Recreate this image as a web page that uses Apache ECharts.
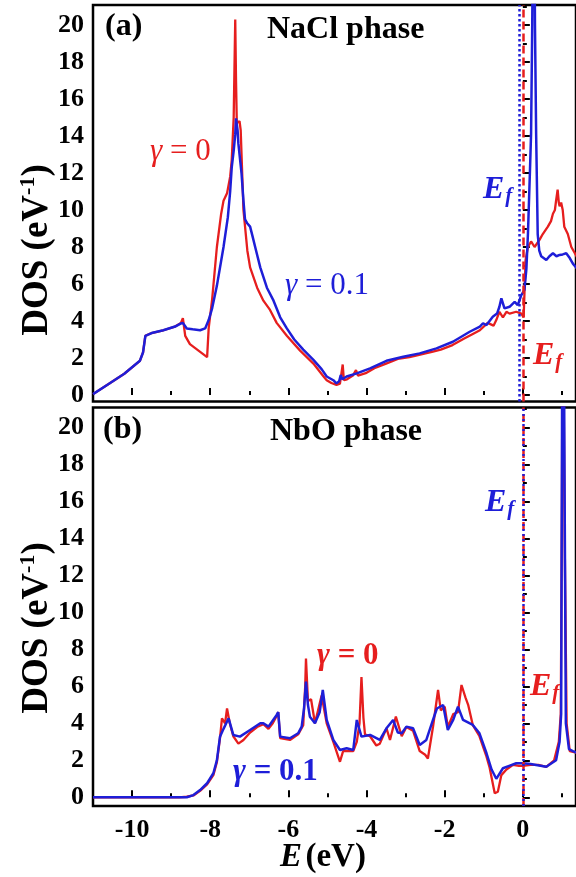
<!DOCTYPE html>
<html>
<head>
<meta charset="utf-8">
<script src="https://cdn.jsdelivr.net/npm/echarts@6/dist/echarts.min.js"></script>
<style>
html,body{margin:0;padding:0;background:#fff;}
#c{width:576px;height:877px;}
</style>
</head>
<body>
<div id="c"></div>
<script>
// ---------- DATA ----------
const yTicks = [0, 2, 4, 6, 8, 10, 12, 14, 16, 18, 20];
const yMinorTicks = [1, 3, 5, 7, 9, 11, 13, 15, 17, 19, 21];
const xTicks = [-10, -8, -6, -4, -2, 0];
const xMinorTicks = [-9, -7, -5, -3, -1, 1];

// (a) NaCl phase, gamma = 0 (red)
const naclRedE = [-11.0, -10.6, -10.2, -9.8, -9.72, -9.66, -9.5, -9.2, -8.9, -8.75, -8.70, -8.64, -8.52, -8.3, -8.08, -8.04, -7.95, -7.83, -7.72, -7.66, -7.57, -7.49, -7.45, -7.40, -7.37, -7.36, -7.34, -7.32, -7.25, -7.22, -7.15, -7.05, -6.98, -6.8, -6.64, -6.47, -6.30, -6.04, -5.70, -5.36, -5.1, -5.02, -4.9, -4.77, -4.68, -4.63, -4.61, -4.58, -4.5, -4.35, -4.27, -4.22, -4.0, -3.8, -3.5, -3.2, -2.9, -2.6, -2.3, -2.1, -1.8, -1.5, -1.28, -1.1, -0.9, -0.75, -0.68, -0.60, -0.51, -0.42, -0.34, -0.17, -0.04, 0.02, 0.07, 0.13, 0.21, 0.30, 0.43, 0.51, 0.64, 0.72, 0.77, 0.82, 0.85, 0.89, 0.92, 0.94, 0.98, 1.02, 1.06, 1.15, 1.24, 1.32, 1.40];
const naclRedDOS = [0.05, 0.6, 1.15, 1.85, 2.3, 3.2, 3.35, 3.5, 3.7, 3.9, 4.15, 3.2, 2.75, 2.4, 2.05, 3.6, 5.2, 8.0, 9.8, 10.5, 10.9, 11.8, 12.7, 15.0, 19.0, 20.3, 17.0, 14.7, 14.8, 14.3, 10.0, 7.8, 6.9, 5.8, 5.1, 4.6, 3.9, 3.2, 2.4, 1.7, 1.0, 0.8, 0.65, 0.55, 0.62, 0.7, 1.65, 0.8, 0.85, 1.05, 1.35, 1.05, 1.2, 1.45, 1.7, 1.95, 2.05, 2.2, 2.35, 2.45, 2.7, 3.05, 3.3, 3.5, 3.9, 3.75, 4.05, 4.5, 4.2, 4.5, 4.4, 4.5, 4.4, 4.2, 7.3, 8.0, 8.3, 8.0, 8.4, 8.7, 9.1, 9.4, 9.8, 10.0, 10.5, 11.1, 10.4, 10.2, 10.4, 10.0, 9.1, 8.7, 8.0, 7.7, 7.4];

// (a) NaCl phase, gamma = 0.1 (blue)
const naclBlueE = [-11.0, -10.6, -10.2, -9.8, -9.72, -9.66, -9.5, -9.2, -8.9, -8.77, -8.70, -8.6, -8.45, -8.26, -8.13, -8.04, -7.95, -7.83, -7.66, -7.55, -7.49, -7.45, -7.40, -7.36, -7.34, -7.30, -7.28, -7.2, -7.15, -7.11, -7.06, -6.98, -6.92, -6.85, -6.72, -6.55, -6.38, -6.21, -6.04, -5.85, -5.62, -5.36, -5.15, -5.02, -4.85, -4.77, -4.70, -4.66, -4.62, -4.51, -4.25, -3.91, -3.49, -3.06, -2.64, -2.21, -1.79, -1.36, -1.1, -1.02, -0.93, -0.77, -0.66, -0.60, -0.55, -0.47, -0.34, -0.21, -0.13, -0.04, 0.04, 0.09, 0.13, 0.18, 0.21, 0.24, 0.28, 0.31, 0.34, 0.38, 0.42, 0.47, 0.60, 0.68, 0.77, 0.86, 0.94, 1.02, 1.11, 1.2, 1.28, 1.40];
const naclBlueDOS = [0.05, 0.6, 1.15, 1.85, 2.3, 3.2, 3.35, 3.5, 3.7, 3.85, 3.9, 3.6, 3.55, 3.5, 3.6, 4.05, 4.7, 5.9, 8.0, 9.6, 11.0, 12.3, 13.2, 14.1, 14.95, 14.3, 13.6, 12.0, 10.5, 9.5, 9.3, 9.1, 8.6, 8.0, 6.9, 5.8, 5.1, 4.2, 3.6, 3.0, 2.45, 1.9, 1.4, 1.0, 0.8, 0.63, 0.75, 1.08, 0.85, 1.0, 1.17, 1.44, 1.85, 2.07, 2.25, 2.52, 2.88, 3.42, 3.7, 3.88, 3.78, 4.23, 4.4, 4.77, 5.23, 4.68, 4.77, 5.04, 4.86, 5.4, 5.68, 6.8, 8.7, 12.0, 14.1, 20.0, 32.0, 20.0, 14.1, 8.7, 7.8, 7.5, 7.3, 7.5, 7.66, 7.5, 7.57, 7.6, 7.66, 7.4, 7.1, 6.8];

// (b) NbO phase, gamma = 0 (red)
const nboRedE = [-11.0, -8.8, -8.6, -8.43, -8.26, -8.08, -7.92, -7.83, -7.75, -7.70, -7.62, -7.57, -7.50, -7.41, -7.28, -7.15, -6.98, -6.80, -6.64, -6.51, -6.40, -6.30, -6.26, -6.21, -5.96, -5.75, -5.62, -5.57, -5.55, -5.50, -5.42, -5.32, -5.15, -5.10, -5.02, -4.85, -4.68, -4.60, -4.51, -4.34, -4.25, -4.18, -4.13, -4.08, -4.04, -3.91, -3.75, -3.66, -3.49, -3.40, -3.25, -3.10, -2.98, -2.81, -2.64, -2.50, -2.43, -2.30, -2.17, -2.10, -2.0, -1.92, -1.78, -1.66, -1.57, -1.47, -1.40, -1.28, -1.11, -0.93, -0.85, -0.72, -0.64, -0.55, -0.42, -0.25, -0.1, 0.0, 0.2, 0.4, 0.6, 0.80, 0.92, 0.97, 1.00, 1.02, 1.04, 1.07, 1.12, 1.2, 1.40];
const nboRedDOS = [0, 0, 0.03, 0.1, 0.35, 0.7, 1.2, 1.9, 3.2, 4.27, 4.0, 4.8, 4.0, 3.3, 2.9, 3.1, 3.5, 3.8, 3.95, 3.7, 4.0, 4.4, 4.6, 3.2, 3.1, 3.4, 3.9, 6.0, 7.5, 5.2, 5.3, 4.0, 5.5, 5.4, 4.0, 3.0, 1.92, 2.5, 2.5, 2.5, 3.0, 4.0, 6.5, 4.3, 3.4, 3.3, 2.8, 2.9, 3.73, 3.1, 4.36, 3.3, 3.8, 3.6, 2.5, 2.3, 2.1, 3.8, 5.8, 4.7, 4.9, 3.8, 4.5, 4.6, 6.07, 5.4, 5.0, 3.9, 3.3, 2.2, 1.6, 0.22, 0.3, 1.2, 1.5, 1.75, 1.7, 1.7, 1.75, 1.75, 1.65, 2.0, 3.0, 4.5, 16.0, 30.0, 30.0, 14.0, 4.0, 2.5, 2.4];

// (b) NbO phase, gamma = 0.1 (blue)
const nboBlueE = [-11.0, -8.6, -8.43, -8.26, -8.08, -7.92, -7.83, -7.75, -7.66, -7.53, -7.41, -7.24, -6.98, -6.72, -6.64, -6.51, -6.30, -6.26, -6.21, -5.96, -5.75, -5.66, -5.60, -5.55, -5.50, -5.45, -5.32, -5.20, -5.12, -5.02, -4.85, -4.68, -4.51, -4.34, -4.25, -4.13, -3.91, -3.66, -3.49, -3.32, -3.20, -3.10, -2.98, -2.81, -2.64, -2.47, -2.30, -2.20, -2.04, -1.92, -1.78, -1.66, -1.53, -1.28, -1.11, -0.93, -0.80, -0.68, -0.51, -0.35, -0.17, 0.0, 0.2, 0.34, 0.60, 0.85, 0.94, 0.98, 1.00, 1.02, 1.05, 1.07, 1.10, 1.18, 1.28, 1.40];
const nboBlueDOS = [0, 0, 0.12, 0.39, 0.76, 1.3, 2.0, 3.28, 3.7, 4.27, 3.37, 3.28, 3.64, 4.0, 4.0, 3.82, 4.45, 4.6, 3.28, 3.19, 3.46, 3.82, 4.8, 6.25, 5.0, 4.36, 4.0, 4.6, 5.8, 4.18, 3.1, 2.56, 2.65, 2.56, 4.18, 3.28, 3.37, 3.10, 3.73, 4.18, 3.5, 3.46, 3.82, 3.73, 2.83, 3.1, 4.18, 4.8, 4.99, 3.64, 4.2, 4.9, 4.18, 3.91, 3.46, 2.38, 1.5, 1.0, 1.57, 1.7, 1.84, 1.84, 1.8, 1.75, 1.65, 2.0, 3.0, 4.5, 18.0, 38.0, 38.0, 16.0, 4.0, 2.6, 2.5, 2.4];

// Fermi levels (eV)
const fermiNaclRed = 0.0;
const fermiNaclBlue = -0.1;
const fermiNboRed = 0.0;
const fermiNboBlue = 0.0;

// ---------- CHART ----------
const RED = '#e61e1e';
const BLUE = '#1e1ed8';
const FONT = '"Liberation Serif", "Times New Roman", serif';
const zip = (a, b) => a.map((v, i) => [v, b[i]]);

const X_MIN = -11, X_MAX = 1.36;
const YA_MIN = -0.35, YA_MAX = 21.08;
const YB_MIN = -0.47, YB_MAX = 21.07;

function xAx(grid, major, labels) {
  return {
    type: 'value', gridIndex: grid, min: X_MIN, max: X_MAX, position: 'bottom',
    axisLine: {show: false},
    splitLine: {show: false},
    axisTick: {show: true, inside: true, length: major ? 7 : 4, lineStyle: {color: '#000', width: 2},
               customValues: major ? xTicks : xMinorTicks},
    axisLabel: {show: labels, customValues: xTicks, margin: 11, color: '#000',
                fontFamily: FONT, fontWeight: 'bold', fontSize: 26},
  };
}
function yAx(grid, major, mn, mx) {
  return {
    type: 'value', gridIndex: grid, min: mn, max: mx, position: 'left',
    axisLine: {show: false},
    splitLine: {show: false},
    axisTick: {show: true, inside: true, length: major ? 7 : 4, lineStyle: {color: '#000', width: 2},
               customValues: major ? yTicks : yMinorTicks},
    axisLabel: {show: major, customValues: yTicks, margin: 9, color: '#000',
                fontFamily: FONT, fontWeight: 'bold', fontSize: 26},
  };
}
function line(data, color, xi, yi, width, ml) {
  const s = {
    type: 'line', data: data, xAxisIndex: xi, yAxisIndex: yi,
    showSymbol: false, symbol: 'none', clip: true, silent: true,
    lineStyle: {color: color, width: width},
  };
  if (ml) s.markLine = ml;
  return s;
}
function vline(x, color, type) {
  return {
    silent: true, symbol: ['none', 'none'], animation: false,
    label: {show: false},
    lineStyle: {color: color, width: 2.5, type: type},
    data: [{xAxis: x}]
  };
}

const efRich = (color) => ({
  e: {fontFamily: FONT, fontStyle: 'italic', fontWeight: 'bold', fontSize: 32, fill: color, color: color, lineHeight: 34},
  f: {fontFamily: FONT, fontStyle: 'italic', fontWeight: 'bold', fontSize: 21, fill: color, color: color, verticalAlign: 'bottom', lineHeight: 20, padding: [22, 0, 0, 1]}
});
function txt(x, y, text, rich, extra) {
  return Object.assign({
    type: 'text', x: x, y: y, silent: true,
    style: {text: text, rich: rich, align: 'left', verticalAlign: 'middle'}
  }, extra || {});
}
const gRich = (color, bold, size) => ({
  g: {fontFamily: FONT, fontStyle: 'italic', fontWeight: bold ? 'bold' : 'normal', fontSize: size, fill: color, color: color},
  n: {fontFamily: FONT, fontWeight: bold ? 'bold' : 'normal', fontSize: size, fill: color, color: color}
});
const bRich = {b: {fontFamily: FONT, fontWeight: 'bold', fontSize: 32, fill: '#000', color: '#000'}};
const dosRich = {
  a: {fontFamily: FONT, fontWeight: 'bold', fontSize: 37, fill: '#000', color: '#000', lineHeight: 40},
  s: {fontFamily: FONT, fontWeight: 'bold', fontSize: 22, fill: '#000', color: '#000', verticalAlign: 'top', lineHeight: 40, padding: [0, 0, 16, 0]}
};
const axRich = {
  i: {fontFamily: FONT, fontStyle: 'italic', fontWeight: 'bold', fontSize: 33, fill: '#000', color: '#000'},
  n: {fontFamily: FONT, fontWeight: 'bold', fontSize: 33, fill: '#000', color: '#000'}
};

const chart = echarts.init(document.getElementById('c'), null, {renderer: 'canvas'});
chart.setOption({
  animation: false,
  backgroundColor: '#fff',
  grid: [
    {left: 93, top: 5, width: 484, height: 396.5, show: true, borderColor: '#000', borderWidth: 2.5, backgroundColor: 'transparent'},
    {left: 93, top: 407.5, width: 484, height: 398.5, show: true, borderColor: '#000', borderWidth: 2.5, backgroundColor: 'transparent'}
  ],
  xAxis: [xAx(0, true, false), xAx(0, false, false), xAx(1, true, true), xAx(1, false, false)],
  yAxis: [yAx(0, true, YA_MIN, YA_MAX), yAx(0, false, YA_MIN, YA_MAX), yAx(1, true, YB_MIN, YB_MAX), yAx(1, false, YB_MIN, YB_MAX)],
  series: [
    line(zip(naclRedE, naclRedDOS), RED, 0, 0, 2.3, vline(fermiNaclRed, RED, [8, 4])),
    line(zip(naclBlueE, naclBlueDOS), BLUE, 0, 0, 2.5, vline(fermiNaclBlue, BLUE, [2.5, 2.5])),
    line(zip(nboRedE, nboRedDOS), RED, 2, 2, 2.3, vline(fermiNboRed, RED, [8, 4])),
    line(zip(nboBlueE, nboBlueDOS), BLUE, 2, 2, 2.5, vline(fermiNboBlue, BLUE, [2, 3])),
  ],
  graphic: [
    txt(105, 27, '{b|(a)}', bRich),
    txt(267, 30, '{b|NaCl phase}', bRich),
    txt(150, 152, '{g|γ}{n| = 0}', gRich(RED, false, 31)),
    txt(285, 286, '{g|γ}{n| = 0.1}', gRich(BLUE, false, 31)),
    txt(483, 190, '{e|E}{f|f}', efRich(BLUE)),
    txt(533, 356, '{e|E}{f|f}', efRich(RED)),
    txt(103, 430, '{b|(b)}', bRich),
    txt(270, 432, '{b|NbO phase}', bRich),
    txt(317, 656, '{g|γ}{n| = 0}', gRich(RED, true, 31)),
    txt(233, 772, '{g|γ}{n| = 0.1}', gRich(BLUE, true, 31)),
    txt(485, 503, '{e|E}{f|f}', efRich(BLUE)),
    txt(530, 687, '{e|E}{f|f}', efRich(RED)),
    {type: 'text', x: 37, y: 250, rotation: Math.PI / 2, silent: true,
     style: {text: '{a|DOS (eV}{s|-1}{a|)}', rich: dosRich, align: 'center', verticalAlign: 'middle'}},
    {type: 'text', x: 37, y: 628, rotation: Math.PI / 2, silent: true,
     style: {text: '{a|DOS (eV}{s|-1}{a|)}', rich: dosRich, align: 'center', verticalAlign: 'middle'}},
    {type: 'text', x: 323, y: 857, silent: true,
     style: {text: '{i|E} {n|(eV)}', rich: axRich, align: 'center', verticalAlign: 'middle'}}
  ]
});
</script>
</body>
</html>
